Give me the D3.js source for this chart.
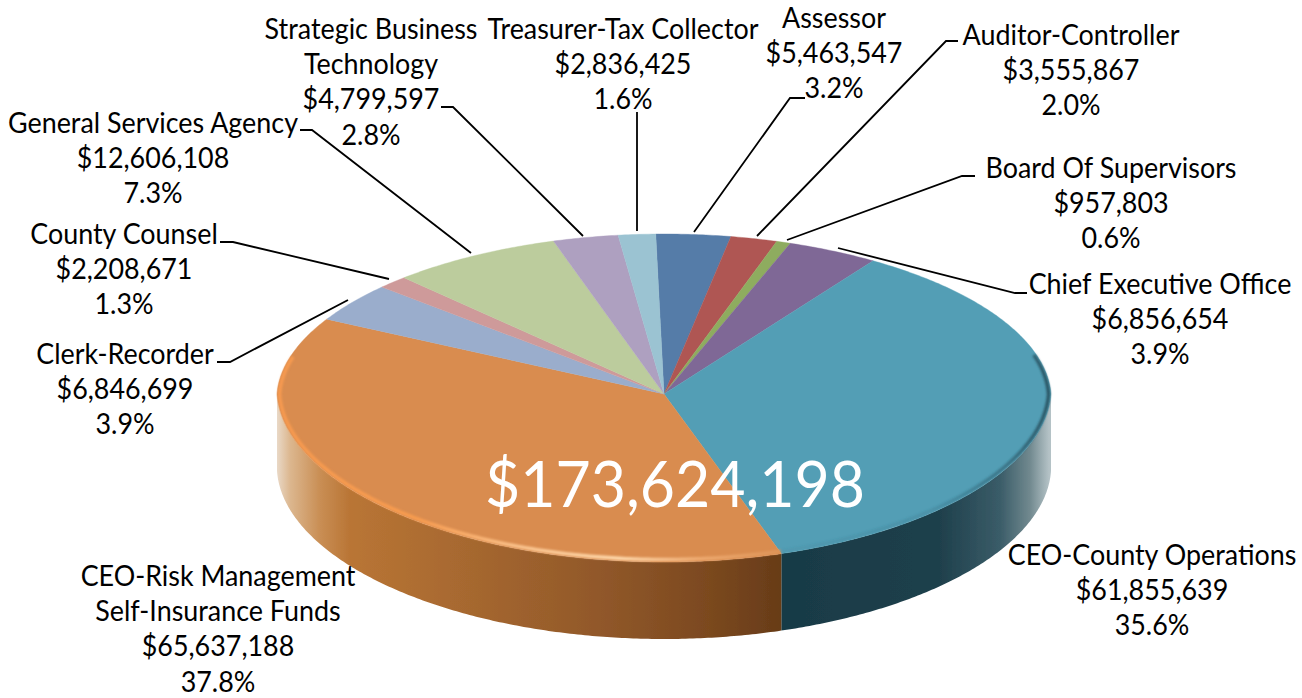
<!DOCTYPE html>
<html>
<head>
<meta charset="utf-8">
<script src="https://cdnjs.cloudflare.com/ajax/libs/d3/7.8.5/d3.min.js"></script>
<style>
  html, body { margin: 0; padding: 0; background: #fff; overflow: hidden; }
  text { font-family: Lato, "Noto Sans", sans-serif; fill: #000; }
</style>
</head>
<body>
<div id="chart"></div>
<script>
// chart values, clockwise from the top of the pie
var names = [
  ["Assessor"], ["Auditor-Controller"], ["Board Of Supervisors"], ["Chief Executive Office"],
  ["CEO-County Operations"], ["CEO-Risk Management", "Self-Insurance Funds"], ["Clerk-Recorder"],
  ["County Counsel"], ["General Services Agency"], ["Strategic Business", "Technology"],
  ["Treasurer-Tax Collector"]
];
var amounts = [5463547, 3555867, 957803, 6856654, 61855639, 65637188, 6846699, 2208671, 12606108, 4799597, 2836425];
var percents = [3.2, 2.0, 0.6, 3.9, 35.6, 37.8, 3.9, 1.3, 7.3, 2.8, 1.6];
var totalLabel = "$173,624,198";
var colors = ["#557ba8", "#af5753", "#8eac5e", "#7f6896", "#539eb5", "#d98c4f", "#9aadcc", "#ce9a9a", "#bccc9d", "#aea0c0", "#9bc3d2"];

// label placement: centre x, first baseline
var labelX = [834, 1071, 1111, 1160, 1152, 218, 125, 124, 153, 371, 623];
var labelY = [28, 45, 178, 294, 565, 586, 364, 244, 133, 39, 39];
var leaders = [
  [[805, 98], [790, 98], [694, 232]],
  [[958, 41], [946, 41], [757, 236]],
  [[975, 176], [962, 176], [787, 240]],
  [[1027, 293], [1015, 293], [838, 248]],
  null,
  null,
  [[217, 362], [230, 362], [348, 300]],
  [[220, 242], [233, 242], [389, 279]],
  [[300, 130], [312, 130], [471, 253]],
  [[441, 107], [453, 107], [583, 236]],
  [[637, 112], [637, 231]]
];

var width = 1302, height = 698;
var cx = 664, cy = 394, rx = 387, ryTop = 160, ryBottom = 168, depth = 77;
var fontSize = 28, squeeze = 0.96, lineStep = 35.2;

var svg = d3.select("#chart").append("svg")
  .attr("width", width)
  .attr("height", height)
  .style("display", "block");

var defs = svg.append("defs");

function hGradient(id, stops) {
  var g = defs.append("linearGradient")
    .attr("id", id)
    .attr("gradientUnits", "userSpaceOnUse")
    .attr("x1", 0).attr("x2", width).attr("y1", 0).attr("y2", 0);
  stops.forEach(function(s) {
    g.append("stop").attr("offset", s[0] / width).attr("stop-color", s[1])
      .attr("stop-opacity", s[2] === undefined ? 1 : s[2]);
  });
}

hGradient("wallOrange", [[276, "#eadbcb"], [290, "#dcb78f"], [320, "#c98e54"], [350, "#b97535"], [450, "#a96a30"], [600, "#91582a"], [700, "#7d4a20"], [781, "#683c18"]]);
hGradient("wallTeal", [[781, "#183a46"], [940, "#1f404c"], [1000, "#3a5c68"], [1030, "#71898f"], [1049, "#b4c2c6"]]);
hGradient("rimOrange", [[277, "#f79a50"], [420, "#f89c50"], [520, "#fbc48e"], [620, "#ffd9ac"], [700, "#eeaa70"], [781, "#dd9458"]]);
hGradient("rimTeal", [[781, "#2f6c80", 0.1], [930, "#2f6c80", 0.25], [1010, "#2f5f70", 0.7], [1051, "#26505e", 0.95]]);

defs.append("filter").attr("id", "soft").attr("x", "-5%").attr("y", "-5%").attr("width", "110%").attr("height", "110%")
  .append("feGaussianBlur").attr("stdDeviation", 0.6);
defs.append("filter").attr("id", "softer").attr("x", "-5%").attr("y", "-5%").attr("width", "110%").attr("height", "110%")
  .append("feGaussianBlur").attr("stdDeviation", 1.1);

var pie = d3.pie().sort(null).startAngle(-0.022).endAngle(2 * Math.PI - 0.022);
var arcs = pie(percents);

// the photo has a slight perspective: near half of the rim is taller,
// and the rim is pulled in a little towards top and bottom
function rim(a, drop, inset) {
  var c = Math.cos(a), k = inset || 0;
  return [
    cx + (rx - k) * Math.sin(a) * (1 - 0.03 * Math.abs(c)),
    cy + (drop || 0) - c * ((c > 0 ? ryTop : ryBottom) - k)
  ];
}

function sweep(a0, a1, drop, inset) {
  var n = Math.max(2, Math.ceil(Math.abs(a1 - a0) / 0.01));
  return d3.range(n + 1).map(function(i) {
    return rim(a0 + (a1 - a0) * i / n, drop, inset);
  });
}

var line = d3.line();

// side walls
var iCounty = 4, iRisk = 5;
var split = arcs[iCounty].endAngle;
var walls = [
  { fill: "url(#wallTeal)", a0: Math.PI / 2, a1: split },
  { fill: "url(#wallOrange)", a0: split, a1: 3 * Math.PI / 2 }
];

svg.append("g").attr("filter", "url(#soft)")
  .selectAll("path")
  .data(walls)
  .enter().append("path")
  .attr("fill", function(d) { return d.fill; })
  .attr("d", function(d) {
    return line(sweep(d.a0, d.a1, 0).concat(sweep(d.a1, d.a0, depth))) + "Z";
  });

// top of the pie
svg.append("g").attr("filter", "url(#soft)")
  .selectAll("path")
  .data(arcs)
  .enter().append("path")
  .attr("fill", function(d, i) { return colors[i]; })
  .attr("stroke", function(d, i) { return colors[i]; })
  .attr("stroke-width", 0.4)
  .attr("d", function(d) {
    return line([[cx, cy]].concat(sweep(d.startAngle, d.endAngle))) + "Z";
  });

// bevel along the near rim, kept just inside the edge
var bevel = svg.append("g").attr("fill", "none").attr("filter", "url(#softer)");
bevel.append("path")
  .attr("stroke", "url(#rimOrange)")
  .attr("stroke-width", 3.5)
  .attr("d", line(sweep(split, arcs[iRisk].endAngle - 0.25, 0, 2.5)));
bevel.append("path")
  .attr("stroke", "url(#rimTeal)")
  .attr("stroke-width", 3.5)
  .attr("d", line(sweep(Math.PI / 2 - 0.25, split, 0, 2.5)));

// leader lines
svg.append("g")
  .selectAll("path")
  .data(leaders.filter(function(d) { return d; }))
  .enter().append("path")
  .attr("fill", "none")
  .attr("stroke", "#000")
  .attr("stroke-width", 1.8)
  .attr("d", line);

// slice labels
var labels = svg.append("g")
  .selectAll("g")
  .data(names)
  .enter().append("g")
  .attr("transform", function(d, i) {
    return "translate(" + labelX[i] + "," + labelY[i] + ") scale(" + squeeze + ",1)";
  });

labels.selectAll("text")
  .data(function(d, i) {
    return d.concat(["$" + d3.format(",")(amounts[i]), percents[i].toFixed(1) + "%"]);
  })
  .enter().append("text")
  .attr("y", function(d, i) { return i * lineStep; })
  .attr("text-anchor", "middle")
  .attr("font-size", fontSize)
  .text(function(d) { return d; });

// total in the middle
svg.append("text")
  .attr("transform", "translate(675,507) scale(0.95,1)")
  .attr("text-anchor", "middle")
  .attr("font-size", 64)
  .style("fill", "#fff")
  .text(totalLabel);
</script>
</body>
</html>
